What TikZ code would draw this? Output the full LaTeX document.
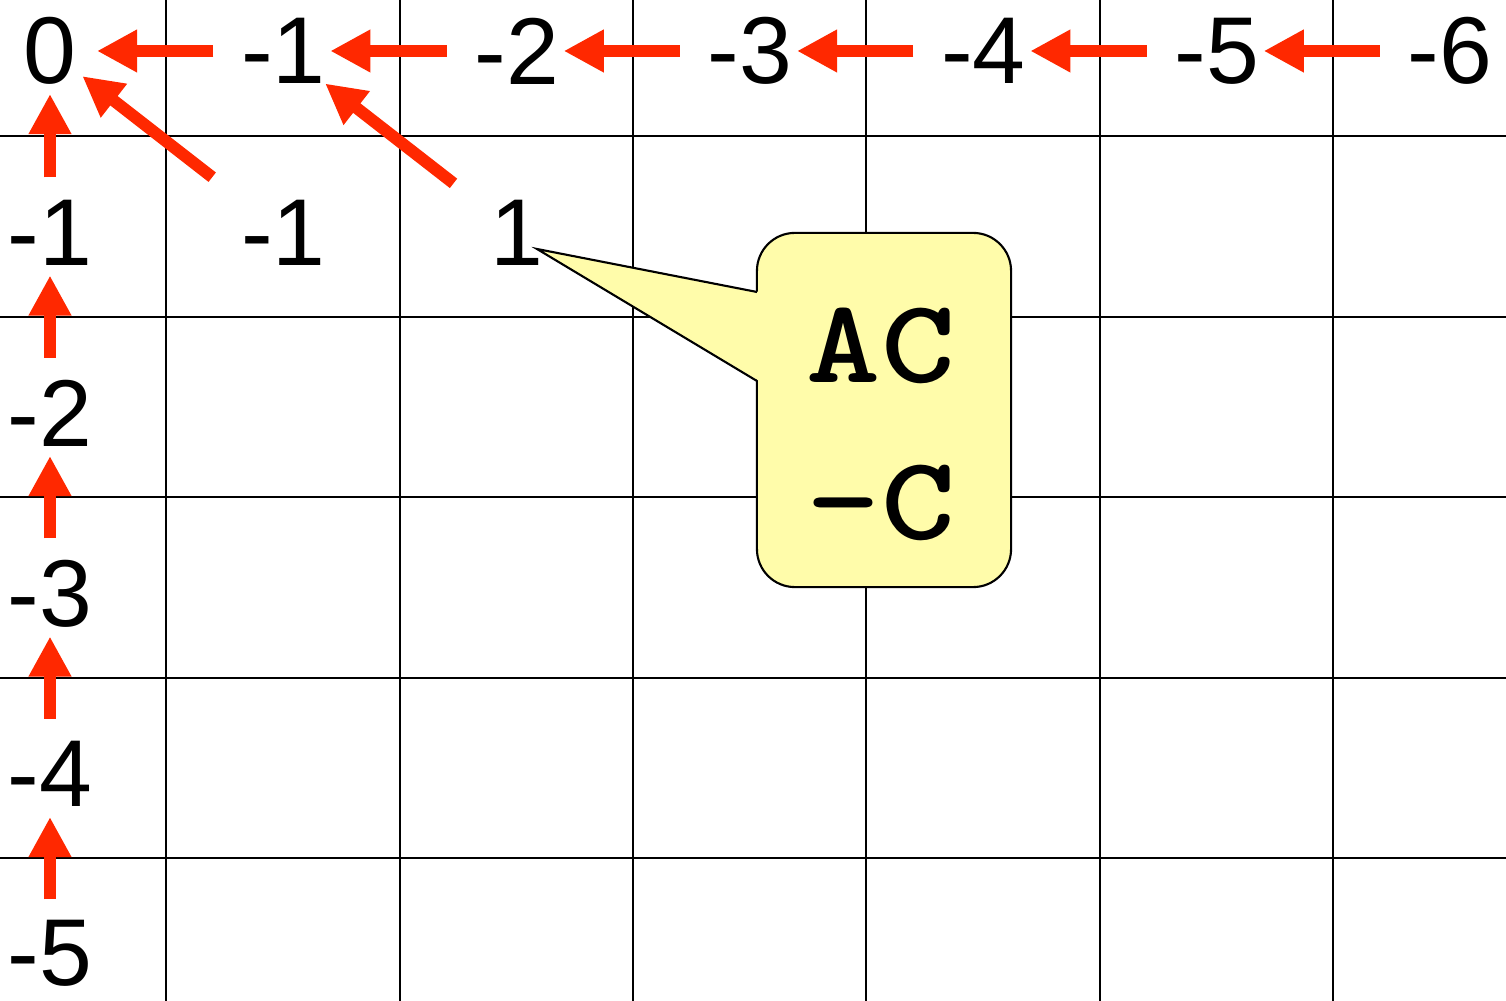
\documentclass[tikz,border=0pt]{standalone}
\usepackage{fontspec}
\setmainfont{Liberation Sans}
\usetikzlibrary{arrows.meta}
\definecolor{arrred}{RGB}{255,40,0}
\definecolor{callfill}{RGB}{255,252,170}
\newcommand{\widemono}[1]{\scalebox{1.18}[1]{#1}}
\begin{document}
\begin{tikzpicture}[x=0.01cm,y=-0.01cm,
  num/.style={inner sep=0pt, font=\fontsize{27}{32}\selectfont},
  gridline/.style={line width=0.7pt, black},
  redarr/.style={draw=arrred, line width=3.4pt, -{Triangle[length=0.4cm,width=0.4cm]}},
  monotext/.style={inner sep=0pt, anchor=base, font={\fontsize{34}{40}\selectfont\ttfamily\bfseries}},
  calloutbox/.style={draw, fill=callfill, rounded corners=0.38cm, minimum width=2.54cm, minimum height=3.54cm, line width=0.6pt, inner sep=0pt}
]
\useasboundingbox (0,0) rectangle (1506,1001);
% grid
\foreach \x in {166,400,633,866,1100,1333} \draw[gridline] (\x,0) -- (\x,1001);
\foreach \y in {136,317,497,678,858} \draw[gridline] (0,\y) -- (1506,\y);
% top row
\node[num] (t0) at (50,51) {0};
\node[num] (t1) at (283.3,51) {-1};
\node[num] (t2) at (516.7,51) {-2};
\node[num] (t3) at (750,51) {-3};
\node[num] (t4) at (983.3,51) {-4};
\node[num] (t5) at (1216.7,51) {-5};
\node[num] (t6) at (1450,51) {-6};
% left column
\node[num] (l1) at (50,232.5) {-1};
\node[num] (l2) at (50,413) {-2};
\node[num] (l3) at (50,593.5) {-3};
\node[num] (l4) at (50,774) {-4};
\node[num] (l5) at (50,953) {-5};
% inner cells
\node[num] (m11) at (283.3,232.5) {-1};
\node[num] (m12) at (516.7,232.5) {1};
% horizontal arrows
\foreach \a/\b in {t1/t0,t2/t1,t3/t2,t4/t3,t5/t4,t6/t5}
  \draw[redarr, shorten <=0.7cm, shorten >=0.47cm] (\a.center) -- (\b.center);
% vertical arrows
\draw[redarr, shorten <=0.55cm, shorten >=0.43cm] (l1.center) -- (t0.center);
\foreach \a/\b in {l2/l1,l3/l2,l4/l3}
  \draw[redarr, shorten <=0.55cm, shorten >=0.43cm] (\a.center) -- (\b.center);
\draw[redarr, shorten <=0.535cm, shorten >=0.43cm] (l5.center) -- (l4.center);
% diagonal arrows
\draw[redarr, shorten <=0.9cm, shorten >=0.41cm] (m11.center) -- (t0.center);
\draw[redarr, shorten <=0.8cm, shorten >=0.53cm] (m12.center) -- (t1.center);
% callout
\node[calloutbox] (box) at (884,410) {};
\coordinate (tip) at (537,249);
\fill[callfill] (759,292) -- (tip) -- (759,381) -- cycle;
\draw[line width=0.6pt, line join=miter] (757,292) -- (tip) -- (757,381);
\node[monotext] (ac) at (881,383) {\widemono{AC}};
\node[monotext] (mc) at (881,540) {\widemono{–C}};
\end{tikzpicture}
\end{document}
